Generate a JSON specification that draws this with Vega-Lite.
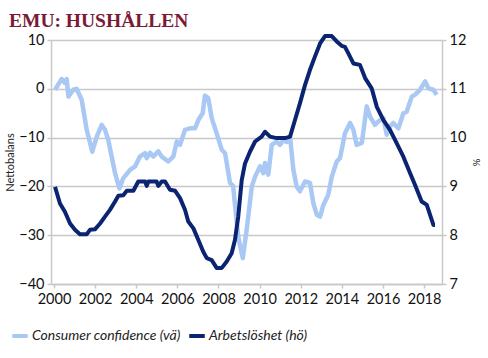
{
  "$schema": "https://vega.github.io/schema/vega-lite/v6.json",
  "autosize": {"type": "none"},
  "width": 391,
  "height": 244,
  "padding": {"left": 51, "top": 40, "right": 46, "bottom": 74},
  "background": "white",
  "title": {
    "text": "EMU: HUSHÅLLEN",
    "anchor": "start",
    "frame": "group",
    "dx": -42,
    "dy": 3,
    "offset": 4,
    "font": "Liberation Serif",
    "fontSize": 19.5,
    "fontWeight": "bold",
    "color": "#7a1a34"
  },
  "config": {
    "view": {"stroke": null},
    "axis": {
      "labelFont": "Lato",
      "titleFont": "Lato",
      "labelColor": "#111111",
      "titleColor": "#222222",
      "domainColor": "#c8c8c8",
      "domainWidth": 1.5,
      "tickColor": "#c8c8c8",
      "tickWidth": 1.5,
      "gridColor": "#c8c8c8",
      "gridWidth": 1.5
    },
    "legend": {"labelFont": "Lato"}
  },
  "datasets": {
    "s": [
      {"t": 2000.05, "v": -0.2, "s": "Consumer confidence (vä)"},
      {"t": 2000.37, "v": 2.0, "s": "Consumer confidence (vä)"},
      {"t": 2000.53, "v": 1.2, "s": "Consumer confidence (vä)"},
      {"t": 2000.62, "v": 2.0, "s": "Consumer confidence (vä)"},
      {"t": 2000.70, "v": -1.6, "s": "Consumer confidence (vä)"},
      {"t": 2000.94, "v": -0.2, "s": "Consumer confidence (vä)"},
      {"t": 2001.10, "v": 0.0, "s": "Consumer confidence (vä)"},
      {"t": 2001.35, "v": -2.3, "s": "Consumer confidence (vä)"},
      {"t": 2001.59, "v": -8.4, "s": "Consumer confidence (vä)"},
      {"t": 2001.86, "v": -12.9, "s": "Consumer confidence (vä)"},
      {"t": 2002.08, "v": -9.8, "s": "Consumer confidence (vä)"},
      {"t": 2002.32, "v": -7.4, "s": "Consumer confidence (vä)"},
      {"t": 2002.48, "v": -8.4, "s": "Consumer confidence (vä)"},
      {"t": 2002.64, "v": -10.5, "s": "Consumer confidence (vä)"},
      {"t": 2002.97, "v": -17.3, "s": "Consumer confidence (vä)"},
      {"t": 2003.18, "v": -20.4, "s": "Consumer confidence (vä)"},
      {"t": 2003.37, "v": -18.3, "s": "Consumer confidence (vä)"},
      {"t": 2003.70, "v": -16.6, "s": "Consumer confidence (vä)"},
      {"t": 2003.94, "v": -15.9, "s": "Consumer confidence (vä)"},
      {"t": 2004.18, "v": -13.9, "s": "Consumer confidence (vä)"},
      {"t": 2004.43, "v": -13.2, "s": "Consumer confidence (vä)"},
      {"t": 2004.51, "v": -14.2, "s": "Consumer confidence (vä)"},
      {"t": 2004.67, "v": -13.1, "s": "Consumer confidence (vä)"},
      {"t": 2004.83, "v": -13.9, "s": "Consumer confidence (vä)"},
      {"t": 2005.07, "v": -12.8, "s": "Consumer confidence (vä)"},
      {"t": 2005.24, "v": -13.9, "s": "Consumer confidence (vä)"},
      {"t": 2005.56, "v": -14.9, "s": "Consumer confidence (vä)"},
      {"t": 2005.80, "v": -13.9, "s": "Consumer confidence (vä)"},
      {"t": 2005.97, "v": -10.8, "s": "Consumer confidence (vä)"},
      {"t": 2006.13, "v": -11.5, "s": "Consumer confidence (vä)"},
      {"t": 2006.37, "v": -8.4, "s": "Consumer confidence (vä)"},
      {"t": 2006.61, "v": -8.1, "s": "Consumer confidence (vä)"},
      {"t": 2006.86, "v": -8.1, "s": "Consumer confidence (vä)"},
      {"t": 2007.02, "v": -6.4, "s": "Consumer confidence (vä)"},
      {"t": 2007.23, "v": -5.0, "s": "Consumer confidence (vä)"},
      {"t": 2007.34, "v": -1.4, "s": "Consumer confidence (vä)"},
      {"t": 2007.50, "v": -1.9, "s": "Consumer confidence (vä)"},
      {"t": 2007.67, "v": -6.0, "s": "Consumer confidence (vä)"},
      {"t": 2007.91, "v": -9.1, "s": "Consumer confidence (vä)"},
      {"t": 2008.16, "v": -12.5, "s": "Consumer confidence (vä)"},
      {"t": 2008.32, "v": -13.2, "s": "Consumer confidence (vä)"},
      {"t": 2008.56, "v": -19.3, "s": "Consumer confidence (vä)"},
      {"t": 2008.71, "v": -19.9, "s": "Consumer confidence (vä)"},
      {"t": 2008.96, "v": -30.3, "s": "Consumer confidence (vä)"},
      {"t": 2009.18, "v": -34.7, "s": "Consumer confidence (vä)"},
      {"t": 2009.37, "v": -28.9, "s": "Consumer confidence (vä)"},
      {"t": 2009.62, "v": -20.0, "s": "Consumer confidence (vä)"},
      {"t": 2009.78, "v": -18.0, "s": "Consumer confidence (vä)"},
      {"t": 2010.02, "v": -15.9, "s": "Consumer confidence (vä)"},
      {"t": 2010.18, "v": -17.3, "s": "Consumer confidence (vä)"},
      {"t": 2010.26, "v": -15.2, "s": "Consumer confidence (vä)"},
      {"t": 2010.42, "v": -17.6, "s": "Consumer confidence (vä)"},
      {"t": 2010.59, "v": -11.5, "s": "Consumer confidence (vä)"},
      {"t": 2010.83, "v": -10.8, "s": "Consumer confidence (vä)"},
      {"t": 2010.99, "v": -11.5, "s": "Consumer confidence (vä)"},
      {"t": 2011.15, "v": -10.5, "s": "Consumer confidence (vä)"},
      {"t": 2011.32, "v": -10.9, "s": "Consumer confidence (vä)"},
      {"t": 2011.48, "v": -9.8, "s": "Consumer confidence (vä)"},
      {"t": 2011.64, "v": -16.6, "s": "Consumer confidence (vä)"},
      {"t": 2011.80, "v": -20.0, "s": "Consumer confidence (vä)"},
      {"t": 2011.96, "v": -21.0, "s": "Consumer confidence (vä)"},
      {"t": 2012.21, "v": -19.0, "s": "Consumer confidence (vä)"},
      {"t": 2012.45, "v": -19.3, "s": "Consumer confidence (vä)"},
      {"t": 2012.61, "v": -23.4, "s": "Consumer confidence (vä)"},
      {"t": 2012.78, "v": -25.8, "s": "Consumer confidence (vä)"},
      {"t": 2012.94, "v": -26.2, "s": "Consumer confidence (vä)"},
      {"t": 2013.10, "v": -23.8, "s": "Consumer confidence (vä)"},
      {"t": 2013.34, "v": -21.7, "s": "Consumer confidence (vä)"},
      {"t": 2013.51, "v": -18.0, "s": "Consumer confidence (vä)"},
      {"t": 2013.75, "v": -14.9, "s": "Consumer confidence (vä)"},
      {"t": 2013.91, "v": -14.2, "s": "Consumer confidence (vä)"},
      {"t": 2014.15, "v": -9.1, "s": "Consumer confidence (vä)"},
      {"t": 2014.40, "v": -7.0, "s": "Consumer confidence (vä)"},
      {"t": 2014.56, "v": -8.4, "s": "Consumer confidence (vä)"},
      {"t": 2014.72, "v": -11.5, "s": "Consumer confidence (vä)"},
      {"t": 2014.97, "v": -11.1, "s": "Consumer confidence (vä)"},
      {"t": 2015.21, "v": -3.6, "s": "Consumer confidence (vä)"},
      {"t": 2015.37, "v": -5.7, "s": "Consumer confidence (vä)"},
      {"t": 2015.61, "v": -7.4, "s": "Consumer confidence (vä)"},
      {"t": 2015.77, "v": -6.7, "s": "Consumer confidence (vä)"},
      {"t": 2016.02, "v": -6.0, "s": "Consumer confidence (vä)"},
      {"t": 2016.18, "v": -9.4, "s": "Consumer confidence (vä)"},
      {"t": 2016.34, "v": -7.7, "s": "Consumer confidence (vä)"},
      {"t": 2016.50, "v": -7.0, "s": "Consumer confidence (vä)"},
      {"t": 2016.75, "v": -8.1, "s": "Consumer confidence (vä)"},
      {"t": 2016.99, "v": -5.0, "s": "Consumer confidence (vä)"},
      {"t": 2017.15, "v": -4.7, "s": "Consumer confidence (vä)"},
      {"t": 2017.40, "v": -1.6, "s": "Consumer confidence (vä)"},
      {"t": 2017.56, "v": -1.2, "s": "Consumer confidence (vä)"},
      {"t": 2017.80, "v": -0.2, "s": "Consumer confidence (vä)"},
      {"t": 2018.05, "v": 1.5, "s": "Consumer confidence (vä)"},
      {"t": 2018.21, "v": 0.1, "s": "Consumer confidence (vä)"},
      {"t": 2018.45, "v": -0.2, "s": "Consumer confidence (vä)"},
      {"t": 2018.61, "v": -1.2, "s": "Consumer confidence (vä)"},
      {"t": 2000.05, "v": 8.99, "s": "Arbetslöshet (hö)"},
      {"t": 2000.29, "v": 8.65, "s": "Arbetslöshet (hö)"},
      {"t": 2000.53, "v": 8.48, "s": "Arbetslöshet (hö)"},
      {"t": 2000.78, "v": 8.24, "s": "Arbetslöshet (hö)"},
      {"t": 2001.02, "v": 8.11, "s": "Arbetslöshet (hö)"},
      {"t": 2001.26, "v": 8.02, "s": "Arbetslöshet (hö)"},
      {"t": 2001.59, "v": 8.02, "s": "Arbetslöshet (hö)"},
      {"t": 2001.75, "v": 8.11, "s": "Arbetslöshet (hö)"},
      {"t": 2001.99, "v": 8.12, "s": "Arbetslöshet (hö)"},
      {"t": 2002.24, "v": 8.24, "s": "Arbetslöshet (hö)"},
      {"t": 2002.48, "v": 8.38, "s": "Arbetslöshet (hö)"},
      {"t": 2002.72, "v": 8.52, "s": "Arbetslöshet (hö)"},
      {"t": 2002.97, "v": 8.69, "s": "Arbetslöshet (hö)"},
      {"t": 2003.13, "v": 8.81, "s": "Arbetslöshet (hö)"},
      {"t": 2003.37, "v": 8.82, "s": "Arbetslöshet (hö)"},
      {"t": 2003.54, "v": 8.91, "s": "Arbetslöshet (hö)"},
      {"t": 2003.86, "v": 8.91, "s": "Arbetslöshet (hö)"},
      {"t": 2004.10, "v": 9.10, "s": "Arbetslöshet (hö)"},
      {"t": 2004.43, "v": 9.10, "s": "Arbetslöshet (hö)"},
      {"t": 2004.51, "v": 9.01, "s": "Arbetslöshet (hö)"},
      {"t": 2004.59, "v": 9.10, "s": "Arbetslöshet (hö)"},
      {"t": 2004.99, "v": 9.10, "s": "Arbetslöshet (hö)"},
      {"t": 2005.07, "v": 9.01, "s": "Arbetslöshet (hö)"},
      {"t": 2005.24, "v": 9.10, "s": "Arbetslöshet (hö)"},
      {"t": 2005.40, "v": 9.10, "s": "Arbetslöshet (hö)"},
      {"t": 2005.64, "v": 8.93, "s": "Arbetslöshet (hö)"},
      {"t": 2005.89, "v": 8.91, "s": "Arbetslöshet (hö)"},
      {"t": 2006.13, "v": 8.76, "s": "Arbetslöshet (hö)"},
      {"t": 2006.37, "v": 8.52, "s": "Arbetslöshet (hö)"},
      {"t": 2006.53, "v": 8.28, "s": "Arbetslöshet (hö)"},
      {"t": 2006.78, "v": 8.14, "s": "Arbetslöshet (hö)"},
      {"t": 2007.02, "v": 7.90, "s": "Arbetslöshet (hö)"},
      {"t": 2007.26, "v": 7.66, "s": "Arbetslöshet (hö)"},
      {"t": 2007.43, "v": 7.53, "s": "Arbetslöshet (hö)"},
      {"t": 2007.67, "v": 7.49, "s": "Arbetslöshet (hö)"},
      {"t": 2007.91, "v": 7.33, "s": "Arbetslöshet (hö)"},
      {"t": 2008.16, "v": 7.33, "s": "Arbetslöshet (hö)"},
      {"t": 2008.40, "v": 7.46, "s": "Arbetslöshet (hö)"},
      {"t": 2008.64, "v": 7.63, "s": "Arbetslöshet (hö)"},
      {"t": 2008.80, "v": 7.90, "s": "Arbetslöshet (hö)"},
      {"t": 2008.96, "v": 8.38, "s": "Arbetslöshet (hö)"},
      {"t": 2009.13, "v": 9.13, "s": "Arbetslöshet (hö)"},
      {"t": 2009.29, "v": 9.47, "s": "Arbetslöshet (hö)"},
      {"t": 2009.53, "v": 9.71, "s": "Arbetslöshet (hö)"},
      {"t": 2009.78, "v": 9.92, "s": "Arbetslöshet (hö)"},
      {"t": 2010.10, "v": 10.02, "s": "Arbetslöshet (hö)"},
      {"t": 2010.26, "v": 10.12, "s": "Arbetslöshet (hö)"},
      {"t": 2010.51, "v": 10.02, "s": "Arbetslöshet (hö)"},
      {"t": 2010.83, "v": 9.99, "s": "Arbetslöshet (hö)"},
      {"t": 2011.24, "v": 9.99, "s": "Arbetslöshet (hö)"},
      {"t": 2011.48, "v": 10.02, "s": "Arbetslöshet (hö)"},
      {"t": 2011.72, "v": 10.36, "s": "Arbetslöshet (hö)"},
      {"t": 2011.96, "v": 10.70, "s": "Arbetslöshet (hö)"},
      {"t": 2012.21, "v": 11.08, "s": "Arbetslöshet (hö)"},
      {"t": 2012.45, "v": 11.39, "s": "Arbetslöshet (hö)"},
      {"t": 2012.69, "v": 11.66, "s": "Arbetslöshet (hö)"},
      {"t": 2012.94, "v": 11.93, "s": "Arbetslöshet (hö)"},
      {"t": 2013.18, "v": 12.08, "s": "Arbetslöshet (hö)"},
      {"t": 2013.51, "v": 12.08, "s": "Arbetslöshet (hö)"},
      {"t": 2013.75, "v": 11.97, "s": "Arbetslöshet (hö)"},
      {"t": 2013.99, "v": 11.88, "s": "Arbetslöshet (hö)"},
      {"t": 2014.15, "v": 11.86, "s": "Arbetslöshet (hö)"},
      {"t": 2014.31, "v": 11.73, "s": "Arbetslöshet (hö)"},
      {"t": 2014.56, "v": 11.52, "s": "Arbetslöshet (hö)"},
      {"t": 2014.88, "v": 11.49, "s": "Arbetslöshet (hö)"},
      {"t": 2015.13, "v": 11.22, "s": "Arbetslöshet (hö)"},
      {"t": 2015.45, "v": 11.01, "s": "Arbetslöshet (hö)"},
      {"t": 2015.70, "v": 10.63, "s": "Arbetslöshet (hö)"},
      {"t": 2016.02, "v": 10.36, "s": "Arbetslöshet (hö)"},
      {"t": 2016.34, "v": 10.16, "s": "Arbetslöshet (hö)"},
      {"t": 2016.67, "v": 9.88, "s": "Arbetslöshet (hö)"},
      {"t": 2016.99, "v": 9.61, "s": "Arbetslöshet (hö)"},
      {"t": 2017.32, "v": 9.27, "s": "Arbetslöshet (hö)"},
      {"t": 2017.56, "v": 9.03, "s": "Arbetslöshet (hö)"},
      {"t": 2017.88, "v": 8.69, "s": "Arbetslöshet (hö)"},
      {"t": 2018.13, "v": 8.62, "s": "Arbetslöshet (hö)"},
      {"t": 2018.45, "v": 8.21, "s": "Arbetslöshet (hö)"},
      {"t": 2018.53, "v": 8.21, "s": "Arbetslöshet (hö)"}
    ]
  },
  "data": {"name": "s"},
  "encoding": {
    "x": {
      "field": "t",
      "type": "quantitative",
      "scale": {"domain": [1999.854, 2018.87], "nice": false, "zero": false},
      "axis": {
        "title": null,
        "values": [2000, 2002, 2004, 2006, 2008, 2010, 2012, 2014, 2016, 2018],
        "format": "d",
        "grid": false,
        "labelFontSize": 14.5,
        "tickSize": 4,
        "labelPadding": 4,
        "labelFlush": false
      }
    },
    "color": {
      "field": "s",
      "type": "nominal",
      "scale": {
        "domain": ["Consumer confidence (vä)", "Arbetslöshet (hö)"],
        "range": ["#a9c9f4", "#0b2471"]
      },
      "legend": {
        "title": null,
        "orient": "none",
        "direction": "horizontal",
        "legendX": -41,
        "legendY": 286,
        "symbolType": "stroke",
        "symbolStrokeWidth": 4,
        "symbolSize": 240,
        "labelFontSize": 14,
        "labelFontStyle": "italic",
        "labelColor": "#222222",
        "labelOffset": 2,
        "columnPadding": 0,
        "padding": 0
      }
    }
  },
  "layer": [
    {
      "transform": [{"filter": "datum.s === 'Consumer confidence (vä)'"}],
      "mark": {"type": "line", "strokeWidth": 4.5, "strokeJoin": "round"},
      "encoding": {
        "y": {
          "field": "v",
          "type": "quantitative",
          "scale": {"domain": [-40, 10], "nice": false, "zero": false},
          "axis": {
            "title": "Nettobalans",
            "titleFontSize": 11,
            "titleFontWeight": "normal",
            "titlePadding": 3,
            "values": [-40, -30, -20, -10, 0, 10],
            "labelFontSize": 14.5,
            "tickSize": 4,
            "labelPadding": 3,
            "grid": true
          }
        }
      }
    },
    {
      "transform": [{"filter": "datum.s === 'Arbetslöshet (hö)'"}],
      "mark": {"type": "line", "strokeWidth": 4, "strokeJoin": "round"},
      "encoding": {
        "y": {
          "field": "v",
          "type": "quantitative",
          "scale": {"domain": [7, 12], "nice": false, "zero": false},
          "axis": {
            "orient": "right",
            "title": "%",
            "titleFontSize": 10,
            "titleFontWeight": "normal",
            "titlePadding": 5,
            "values": [7, 8, 9, 10, 11, 12],
            "labelFontSize": 14.5,
            "tickSize": 4,
            "labelPadding": 3,
            "grid": false
          }
        }
      }
    }
  ],
  "resolve": {"scale": {"y": "independent"}}
}
